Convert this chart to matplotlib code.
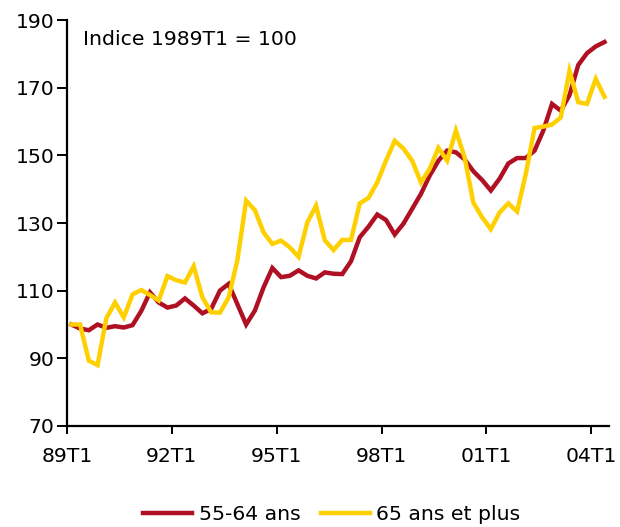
import numpy as np
import matplotlib
matplotlib.use("Agg")
import matplotlib.pyplot as plt

# Series trimestrielles, indice 1989T1 = 100 (89T1 .. 04T2)
quarters = [f"{(89 + i // 4) % 100:02d}T{i % 4 + 1}" for i in range(62)]

ans_55_64 = [100, 98.8, 98.3, 100, 99, 99.5, 99.1, 99.8, 104, 109.5,
             106.5, 105, 105.6, 107.7, 105.6, 103.3, 104.6, 110, 112, 106,
             100, 104.1, 111, 116.7, 114, 114.4, 116, 114.4, 113.6, 115.4,
             115, 114.9, 118.7, 125.8, 128.9, 132.5, 130.9, 126.6, 129.8, 134.2,
             138.6, 144, 148.4, 151.4, 150.9, 148.8, 145.3, 142.7, 139.6, 143.1,
             147.6, 149.2, 149.2, 151.4, 157.3, 165.2, 163.2, 167.8, 176.7, 180.2,
             182.2, 183.5]

ans_65_plus = [100, 100, 89.3, 88, 101.8, 106.5, 102.1, 108.9, 110.2, 108.7,
               107.1, 114.3, 113.1, 112.4, 117.2, 108, 103.6, 103.5, 108, 119,
               136.6, 133.8, 127.2, 123.8, 124.8, 122.8, 120, 130.2, 135.1, 124.9,
               122, 125, 125, 135.8, 137.4, 142, 148.4, 154.3, 152, 148.4,
               142, 146, 152.2, 148.4, 157.3, 149.4, 136, 131.7, 128.2, 133.1,
               135.8, 133.4, 144.5, 158.1, 158.5, 159.1, 161.2, 175, 165.7, 165.2,
               172.6, 167.3]

tick_labels = ["89T1", "92T1", "95T1", "98T1", "01T1", "04T1"]

rouge = "#AF1023"
jaune = "#FFD000"

plt.rcParams["font.family"] = ["DejaVu Sans"]
plt.rcParams["font.size"] = 14.7

fig = plt.figure(figsize=(6.2, 5.27), dpi=100)
ax = fig.add_axes([0.108, 0.1917, 0.874, 0.7703])

x = np.arange(len(quarters))
ax.plot(x, ans_55_64, color=rouge, lw=3.2, label="55-64 ans", solid_joinstyle="miter")
ax.plot(x, ans_65_plus, color=jaune, lw=3.2, label="65 ans et plus", solid_joinstyle="miter")

ax.set_xlim(-0.5, len(quarters) - 0.5)
ax.set_ylim(70, 190)
ax.set_yticks(np.arange(70, 191, 20))
ax.set_xticks(np.arange(-0.5, len(quarters), 12))
ax.set_xticklabels(tick_labels)

for s in ["top", "right"]:
    ax.spines[s].set_visible(False)
for s in ["left", "bottom"]:
    ax.spines[s].set_linewidth(1.6)
ax.tick_params(axis="y", direction="out", length=7, width=1.4, pad=2)
ax.tick_params(axis="x", direction="out", length=6, width=1.4, pad=9)

ax.text(0.03, 0.975, "Indice 1989T1 = 100", transform=ax.transAxes,
        ha="left", va="top")

fig.legend(loc="lower center", bbox_to_anchor=(0.535, -0.03), ncol=2,
           frameon=False, handlelength=2.4, handletextpad=0.3,
           columnspacing=1.0)

fig.savefig("out.png", dpi=100)
